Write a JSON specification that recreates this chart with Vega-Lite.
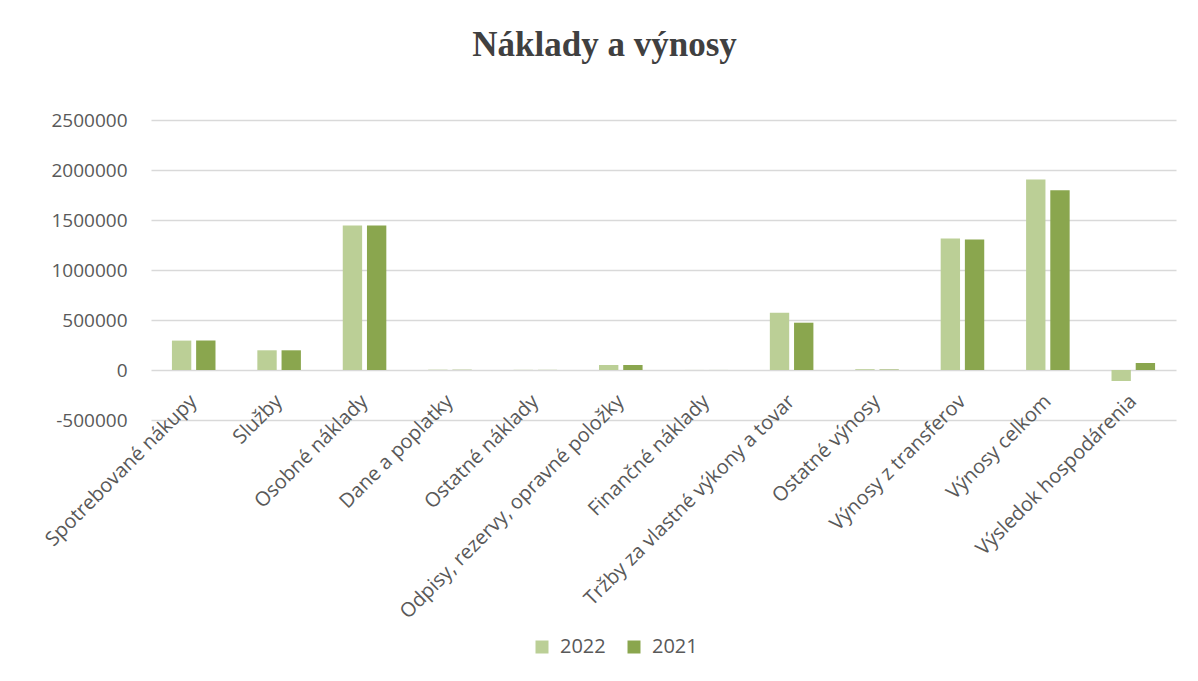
{
  "$schema": "https://vega.github.io/schema/vega-lite/v6.json",
  "width": 1025,
  "height": 300,
  "autosize": {"type": "none"},
  "padding": {"left": 151, "top": 120, "right": 22, "bottom": 261},
  "background": "white",
  "title": {
    "text": "Náklady a výnosy",
    "font": "Liberation Serif",
    "fontSize": 35,
    "fontWeight": "bold",
    "color": "#404040",
    "anchor": "middle",
    "dx": -59,
    "baseline": "alphabetic",
    "offset": 20
  },
  "data": {
    "values": [
      {"kategoria": "Spotrebované nákupy", "rok": "2022", "hodnota": 294000},
      {"kategoria": "Spotrebované nákupy", "rok": "2021", "hodnota": 294000},
      {"kategoria": "Služby", "rok": "2022", "hodnota": 197000},
      {"kategoria": "Služby", "rok": "2021", "hodnota": 197000},
      {"kategoria": "Osobné náklady", "rok": "2022", "hodnota": 1444000},
      {"kategoria": "Osobné náklady", "rok": "2021", "hodnota": 1444000},
      {"kategoria": "Dane a poplatky", "rok": "2022", "hodnota": 3000},
      {"kategoria": "Dane a poplatky", "rok": "2021", "hodnota": 2500},
      {"kategoria": "Ostatné náklady", "rok": "2022", "hodnota": 1500},
      {"kategoria": "Ostatné náklady", "rok": "2021", "hodnota": 1200},
      {"kategoria": "Odpisy, rezervy, opravné položky", "rok": "2022", "hodnota": 50000},
      {"kategoria": "Odpisy, rezervy, opravné položky", "rok": "2021", "hodnota": 50000},
      {"kategoria": "Finančné náklady", "rok": "2022", "hodnota": 500},
      {"kategoria": "Finančné náklady", "rok": "2021", "hodnota": 400},
      {"kategoria": "Tržby za vlastné výkony a tovar", "rok": "2022", "hodnota": 573000},
      {"kategoria": "Tržby za vlastné výkony a tovar", "rok": "2021", "hodnota": 473000},
      {"kategoria": "Ostatné výnosy", "rok": "2022", "hodnota": 8000},
      {"kategoria": "Ostatné výnosy", "rok": "2021", "hodnota": 5000},
      {"kategoria": "Výnosy z transferov", "rok": "2022", "hodnota": 1314000},
      {"kategoria": "Výnosy z transferov", "rok": "2021", "hodnota": 1304000},
      {"kategoria": "Výnosy celkom", "rok": "2022", "hodnota": 1904000},
      {"kategoria": "Výnosy celkom", "rok": "2021", "hodnota": 1797000},
      {"kategoria": "Výsledok hospodárenia", "rok": "2022", "hodnota": -110000},
      {"kategoria": "Výsledok hospodárenia", "rok": "2021", "hodnota": 70000}
    ]
  },
  "mark": {"type": "bar"},
  "encoding": {
    "x": {
      "field": "kategoria",
      "type": "nominal",
      "sort": null,
      "scale": {"paddingInner": 0.49, "paddingOuter": 0.245},
      "axis": {
        "title": null,
        "labelAngle": -45,
        "labelAlign": "right",
        "labelBaseline": "middle",
        "labelPadding": -22,
        "ticks": false,
        "domain": false,
        "labelFont": "Open Sans",
        "labelFontSize": 20,
        "labelColor": "#595959",
        "labelLimit": 1000,
        "labelOverlap": false
      }
    },
    "xOffset": {
      "field": "rok",
      "type": "nominal",
      "sort": ["2022", "2021"],
      "scale": {"paddingInner": 0.2}
    },
    "y": {
      "field": "hodnota",
      "type": "quantitative",
      "scale": {"domain": [-500000, 2500000], "nice": false, "zero": false},
      "axis": {
        "title": null,
        "values": [-500000, 0, 500000, 1000000, 1500000, 2000000, 2500000],
        "labelExpr": "'' + datum.value",
        "domain": false,
        "ticks": false,
        "labelPadding": 24,
        "gridColor": "#d9d9d9",
        "gridWidth": 1.3,
        "labelFont": "Open Sans",
        "labelFontSize": 19,
        "labelColor": "#595959"
      }
    },
    "color": {
      "field": "rok",
      "type": "nominal",
      "sort": ["2022", "2021"],
      "scale": {"domain": ["2022", "2021"], "range": ["#bbcf96", "#8aa64e"]},
      "legend": {
        "title": null,
        "orient": "none",
        "legendX": 381,
        "legendY": 517,
        "direction": "horizontal",
        "symbolType": "square",
        "symbolSize": 169,
        "symbolStrokeWidth": 0,
        "labelFont": "Open Sans",
        "labelFontSize": 20,
        "labelColor": "#595959",
        "columnPadding": 18,
        "labelOffset": 8
      }
    }
  },
  "config": {"view": {"stroke": null}}
}
